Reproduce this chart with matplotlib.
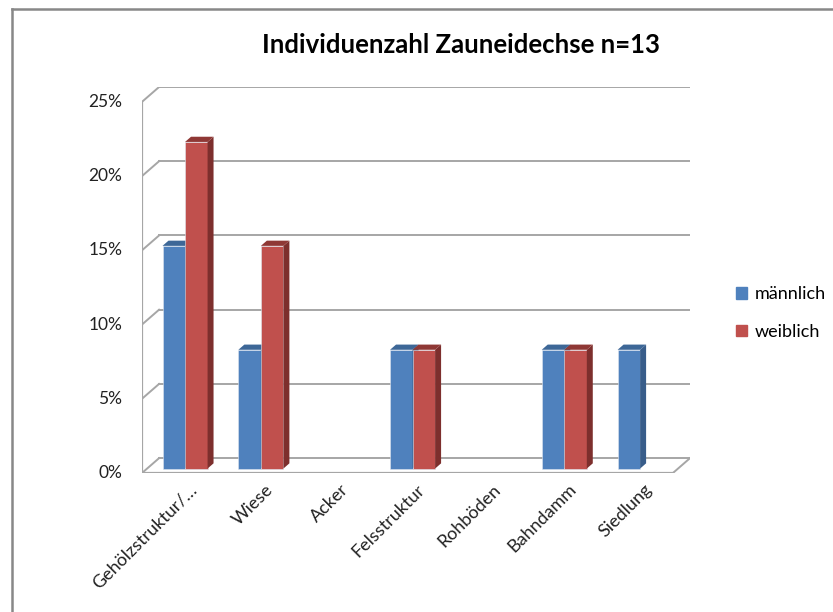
import matplotlib.pyplot as plt
from matplotlib.patches import Polygon
from matplotlib.lines import Line2D

categories = ["Gehölzstruktur/…", "Wiese", "Acker", "Felsstruktur", "Rohböden", "Bahndamm", "Siedlung"]
maennlich = [15, 8, 0, 8, 0, 8, 8]
weiblich = [22, 15, 0, 8, 0, 8, 0]
yticks = [0, 5, 10, 15, 20, 25]

# 3D look: depth offset of the back wall (x in categories, y in percent)
DX, DY = 0.225, 1.0
F0, F1 = 0.3, 0.65   # front/back of the bars as fraction of the depth
BW = 0.297

plt.rcParams['font.family'] = ['Lato', 'DejaVu Sans']

fig = plt.figure(figsize=(8.33, 6.12), dpi=100)
ax = fig.add_axes([142 / 833, 1 - 473 / 612, (690 - 142) / 833, (473 - 87) / 612])
ax.set_xlim(0, len(categories) + DX)
ax.set_ylim(0, 25 + DY)
ax.axis('off')

grid = '#a6a6a6'
n = len(categories)
# back wall gridlines + diagonal connectors
for v in yticks:
    ax.plot([DX, n + DX], [v + DY, v + DY], color=grid, lw=1.4, zorder=1)
    ax.plot([0, DX], [v, v + DY], color=grid, lw=1.4, zorder=1)
    ax.plot([-0.09, 0], [v, v], color=grid, lw=1.4, zorder=1)
    ax.text(-0.26, v, f"{v}%", ha='right', va='center', fontsize=12.5, color='#222222')
# front axis and floor
ax.plot([0, 0], [0, 25], color=grid, lw=1.6, zorder=1)
ax.plot([0, n], [0, 0], color=grid, lw=1.6, zorder=1)
ax.plot([n, n + DX], [0, DY], color=grid, lw=1.4, zorder=1)
for i in range(n + 1):
    ax.plot([i, i], [0, -0.45], color=grid, lw=1.4, zorder=1)


def bar3d(x0, h, front, side, top):
    if h <= 0:
        return
    ox, oy = F0 * DX, F0 * DY
    d = (F1 - F0)
    x = x0 + ox
    ax.bar(x, h, width=BW, bottom=oy, align='edge', color=front,
           edgecolor='#dfe6f0', linewidth=0.4, zorder=3)
    ax.add_patch(Polygon([(x + BW, oy), (x + BW + d * DX, oy + d * DY),
                          (x + BW + d * DX, oy + h + d * DY), (x + BW, oy + h)],
                         closed=True, facecolor=side, edgecolor='none', zorder=3))
    ax.add_patch(Polygon([(x, oy + h), (x + BW, oy + h),
                          (x + BW + d * DX, oy + h + d * DY), (x + d * DX, oy + h + d * DY)],
                         closed=True, facecolor=top, edgecolor='none', zorder=3))


for i in range(n):
    bar3d(i + 0.5 - BW, maennlich[i], '#4f81bd', '#385d8a', '#3d6797')
    bar3d(i + 0.5, weiblich[i], '#c0504d', '#7d2f2d', '#8f3835')

for i, c in enumerate(categories):
    ax.text(i + 0.62, -0.55, c, rotation=45, ha='right', va='top',
            rotation_mode='anchor', fontsize=13, color='#222222')

fig.text(461 / 833, 1 - 45 / 612, "Individuenzahl Zauneidechse n=13",
         ha='center', va='center', fontsize=18.5, fontweight='bold')

handles = [plt.Rectangle((0, 0), 1, 1, color='#4f81bd'),
           plt.Rectangle((0, 0), 1, 1, color='#c0504d')]
fig.legend(handles, ['männlich', 'weiblich'], loc='center left',
           bbox_to_anchor=(720 / 833, 1 - 313 / 612), frameon=False,
           fontsize=13, handlelength=0.6, handleheight=0.6,
           handletextpad=0.4, labelspacing=1.2)

# chart area border (left and top visible)
fig.add_artist(Line2D([12 / 833, 12 / 833], [0, 1 - 9 / 612], transform=fig.transFigure,
                      color='#888888', lw=1.8))
fig.add_artist(Line2D([12 / 833, 1], [1 - 9 / 612, 1 - 9 / 612], transform=fig.transFigure,
                      color='#888888', lw=1.8))

fig.savefig('out.png', dpi=100)
